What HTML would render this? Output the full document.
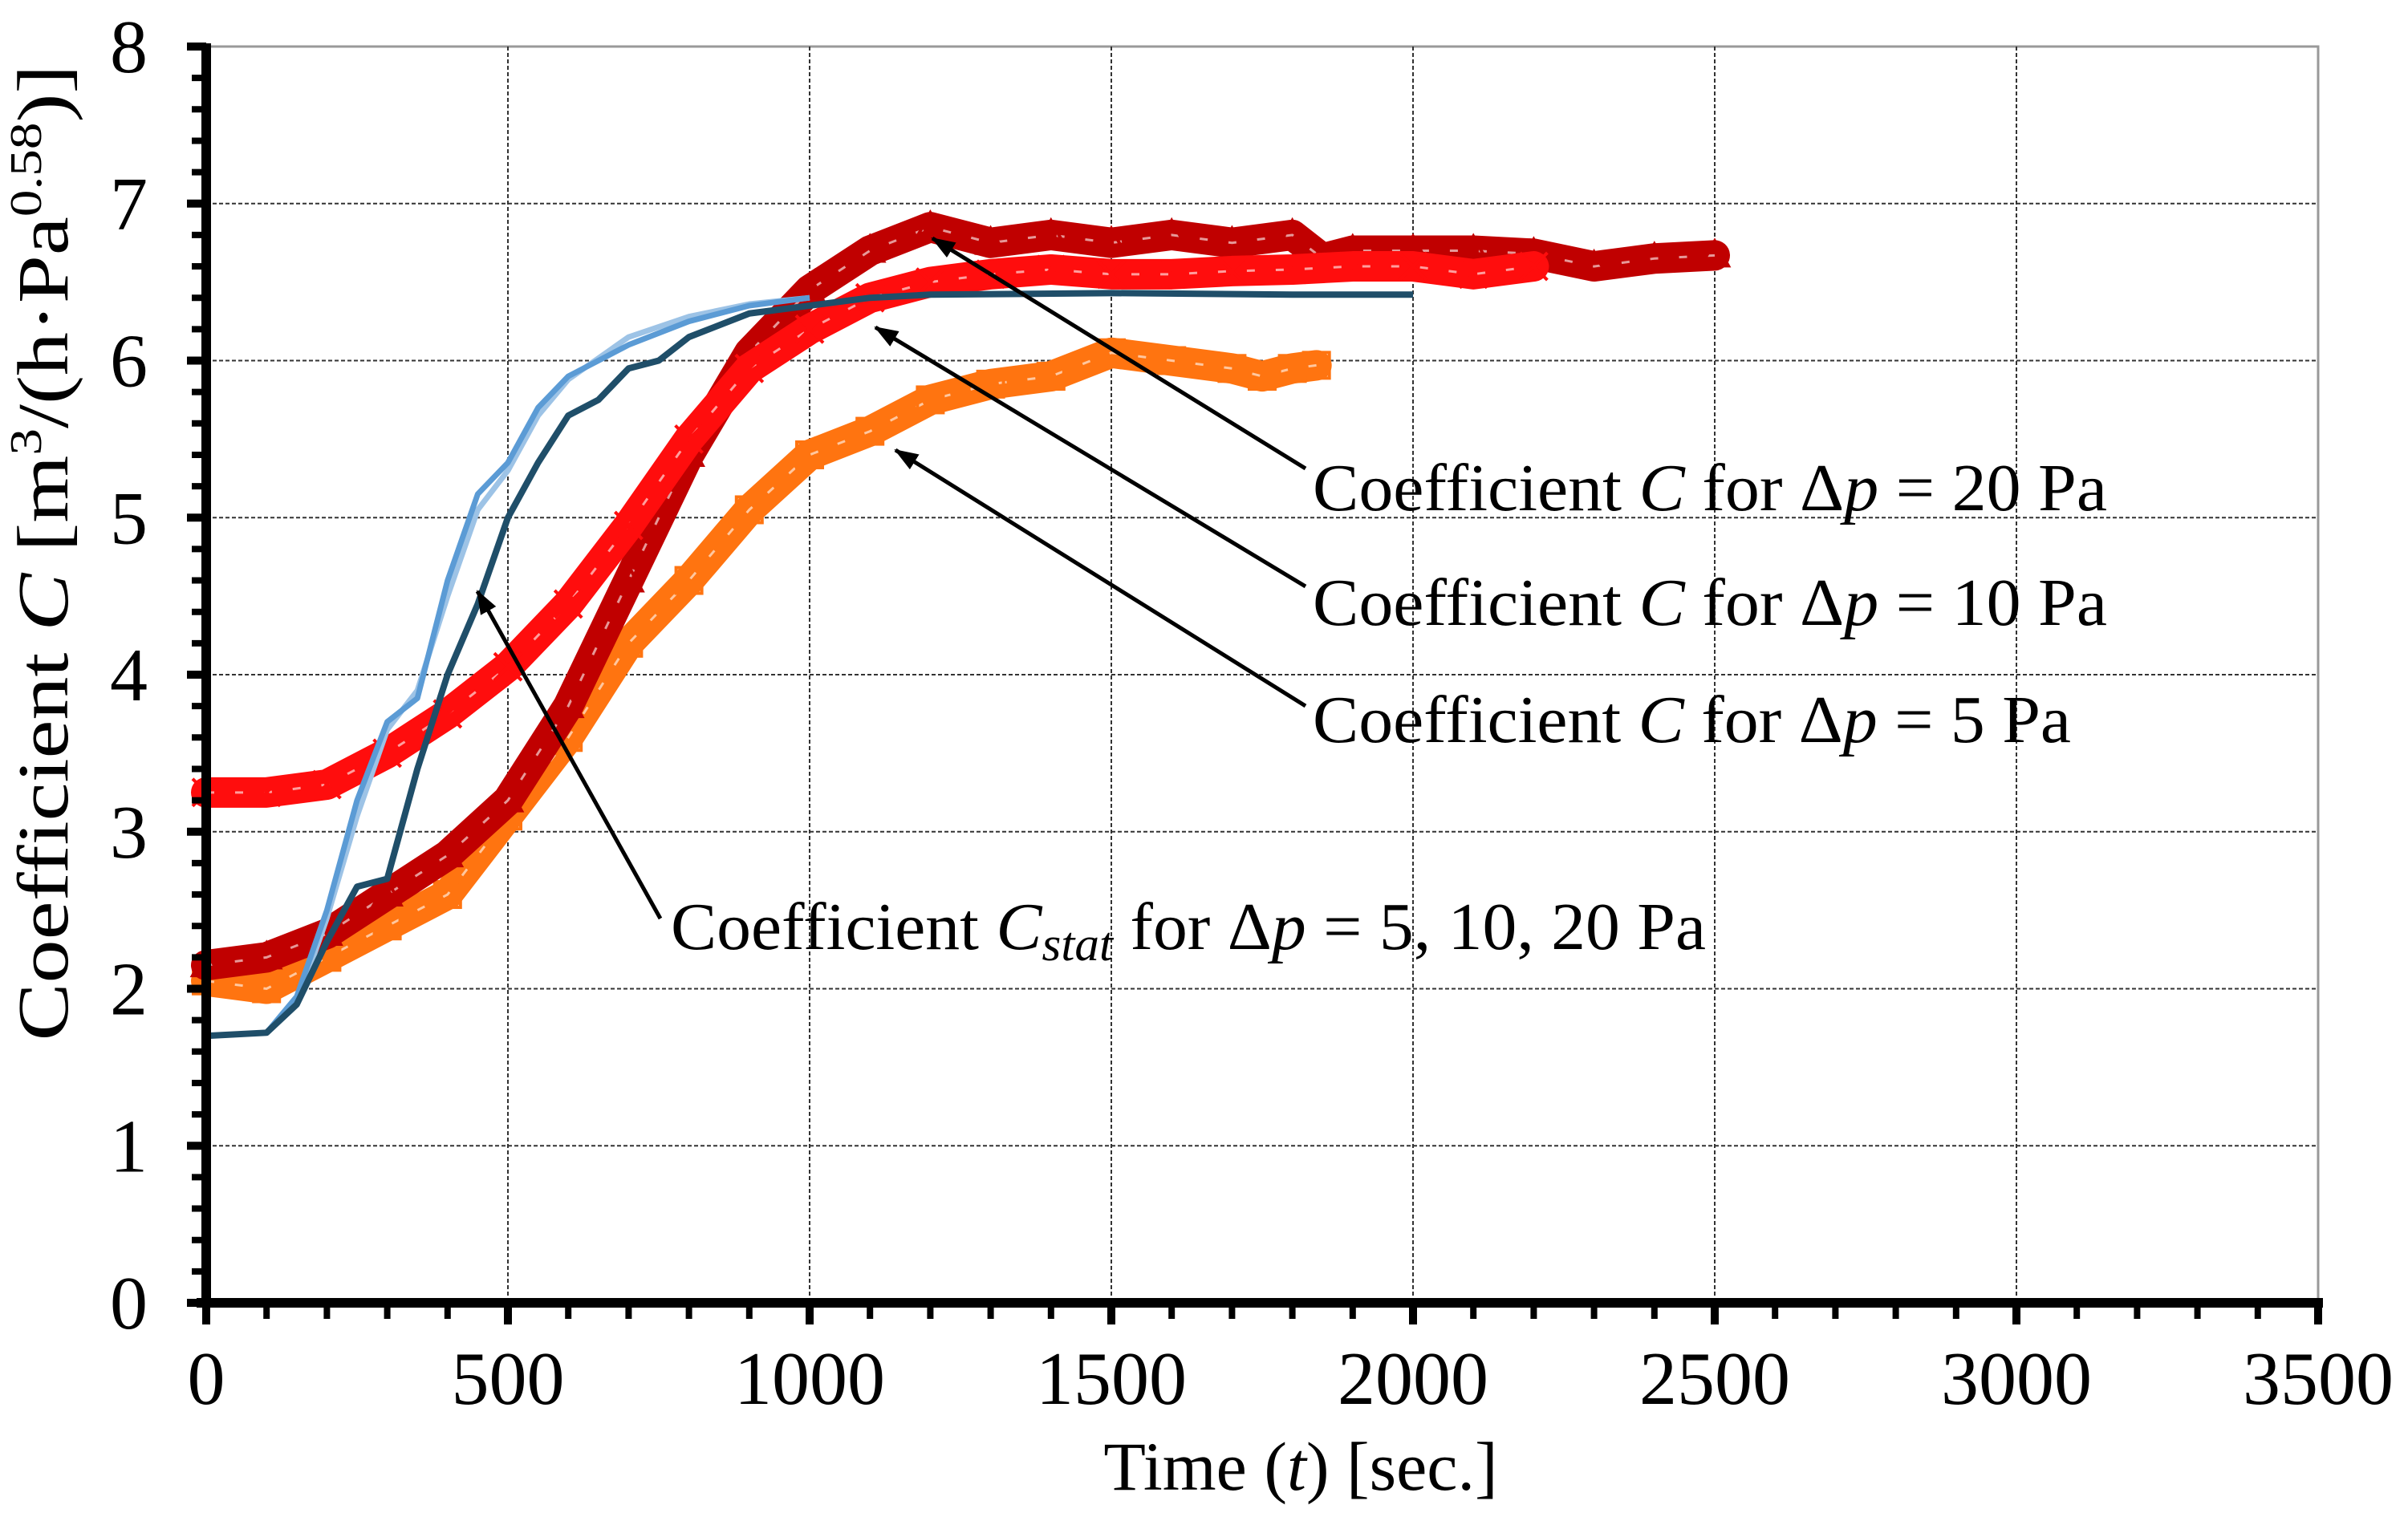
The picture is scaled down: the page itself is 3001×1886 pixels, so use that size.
<!DOCTYPE html>
<html><head><meta charset="utf-8"><style>
body{margin:0;background:#fff}
svg{display:block;font-family:"Liberation Serif",serif}
</style></head><body>
<svg id="chart" width="3001" height="1886" viewBox="0 0 3001 1886" xmlns="http://www.w3.org/2000/svg">
<g id="grid"></g>
<g id="series"></g>
<g id="axes"></g>
<g id="annot">
 <defs><marker id="ah" markerWidth="30" markerHeight="22" refX="28" refY="11" orient="auto" markerUnits="userSpaceOnUse" viewBox="0 0 30 22"><path d="M0,0 L30,11 L0,22 z" fill="#000"/></marker></defs>
</g>
<text transform="translate(84,689) rotate(-90) scale(1.2,1)" text-anchor="middle" font-size="90">Coefficient <tspan font-style="italic">C</tspan> [m<tspan font-size="56" dy="-33">3</tspan><tspan dy="33">/(h·Pa</tspan><tspan font-size="56" dy="-33">0.58</tspan><tspan dy="33">)]</tspan></text>
<text x="1621" y="1857" text-anchor="middle" font-size="86">Time (<tspan font-style="italic">t</tspan>) [sec.]</text>
</svg>
<script>
const xTicks=[0,500,1000,1500,2000,2500,3000,3500];
const yTicks=[0,1,2,3,4,5,6,7,8];
const t20=[0,100,200,300,400,500,600,700,800,900,1000,1100,1200,1300,1400,1500,1600,1700,1800,1850,1900,2000,2100,2200,2300,2400,2500];
const c20=[2.15,2.2,2.35,2.6,2.85,3.2,3.8,4.6,5.4,6.05,6.45,6.7,6.85,6.75,6.8,6.75,6.8,6.75,6.8,6.65,6.7,6.7,6.7,6.68,6.6,6.65,6.67];
const t10=[0,100,200,300,400,500,600,700,800,900,1000,1100,1200,1300,1400,1500,1600,1700,1800,1900,2000,2100,2200];
const c10=[3.25,3.25,3.3,3.5,3.75,4.05,4.45,4.95,5.5,5.95,6.2,6.4,6.5,6.55,6.58,6.55,6.55,6.57,6.58,6.6,6.6,6.55,6.6];
const t5=[0,100,200,300,400,500,600,700,800,900,1000,1100,1200,1300,1400,1500,1600,1700,1750,1800,1840];
const c5=[2.05,2.0,2.2,2.4,2.6,3.1,3.6,4.2,4.6,5.05,5.4,5.55,5.75,5.85,5.9,6.05,6.0,5.95,5.9,5.95,5.97];
const tS=[0,100,150,200,250,300,350,400,450,500,550,600,650,700,750,800,900,1000,1100,1200,1500,1800,2000];
const cS=[1.7,1.72,1.9,2.3,2.65,2.7,3.4,4.0,4.45,5.0,5.35,5.65,5.75,5.95,6.0,6.15,6.3,6.35,6.4,6.42,6.43,6.42,6.42];
const tB=[0,100,150,200,250,300,350,400,450,500,550,600,700,800,900,1000];
const cB1=[1.7,1.72,1.95,2.5,3.2,3.7,3.85,4.6,5.15,5.35,5.7,5.9,6.1,6.25,6.35,6.4];
const cB2=[1.7,1.72,1.9,2.45,3.1,3.65,3.9,4.5,5.05,5.3,5.65,5.88,6.15,6.28,6.36,6.4];

const X0=257,X1=2889,Y0=1624,Y1=58;
const sx=t=>X0+t*(X1-X0)/3500;
const sy=c=>Y0-c*(Y0-Y1)/8;
const NS="http://www.w3.org/2000/svg";
function mk(tag,parent,attrs){const e=document.createElementNS(NS,tag);for(const k in attrs)e.setAttribute(k,attrs[k]);parent.appendChild(e);return e;}
const grid=document.getElementById('grid'),axes=document.getElementById('axes'),ser=document.getElementById('series'),ann=document.getElementById('annot');
let b=mk('rect',grid,{x:X0,y:Y1,width:X1-X0,height:Y0-Y1,fill:'none',stroke:'#999','stroke-width':3});


yTicks.forEach(v=>{if(v===0||v===8)return;const l=mk('line',grid,{x1:X0,x2:X1,y1:sy(v),y2:sy(v),stroke:'#333','stroke-width':2,'stroke-dasharray':'5,3'});

});
xTicks.forEach(v=>{if(v===0||v===3500)return;const l=mk('line',grid,{y1:Y1,y2:Y0,x1:sx(v),x2:sx(v),stroke:'#333','stroke-width':2,'stroke-dasharray':'5,3'});

});
let ya=mk('line',axes,{x1:X0,x2:X0,y1:Y1-4,y2:Y0+6,stroke:'#000','stroke-width':12});


let xa=mk('line',axes,{x1:X0-12,x2:X1+6,y1:Y0,y2:Y0,stroke:'#000','stroke-width':12});


for(let i=0;i<=40;i++){const v=i*0.2,maj=i%5===0;mk('line',axes,{x1:X0-(maj?24:18),x2:X0,y1:sy(v),y2:sy(v),stroke:'#000','stroke-width':maj?10:8});}
for(let i=0;i<=35;i++){const v=i*100,maj=i%5===0;mk('line',axes,{x1:sx(v),x2:sx(v),y1:Y0,y2:Y0+(maj?27:20),stroke:'#000','stroke-width':maj?10:8});}
yTicks.forEach(v=>{const t=mk('text',axes,{x:184,y:sy(v)+32,'text-anchor':'end','font-size':94});t.textContent=v;

});
xTicks.forEach(v=>{const t=mk('text',axes,{x:sx(v),y:1750,'text-anchor':'middle','font-size':94});t.textContent=v;

});
function pts(ts,cs){return ts.map((t,i)=>sx(t)+','+sy(cs[i])).join(' ');}
function band(ts,cs,color,name,marker){
 const g=mk('g',ser,{});
 
 
 mk('polyline',g,{points:pts(ts,cs),fill:'none',stroke:color,'stroke-width':38,'stroke-linejoin':'round','stroke-linecap':'round'});
 mk('polyline',g,{points:pts(ts,cs),fill:'none',stroke:'#fff','stroke-width':3,'stroke-dasharray':'10,26','stroke-opacity':0.6});
 ts.forEach((t,i)=>{const x=sx(t),y=sy(cs[i]);let m;
  if(marker==='tri')m=mk('path',g,{d:`M${x},${y-18} L${x+17},${y+13} L${x-17},${y+13} z`,fill:'none',stroke:color,'stroke-width':4});
  else if(marker==='sq')m=mk('rect',g,{x:x-16,y:y-16,width:32,height:32,fill:'none',stroke:color,'stroke-width':4});
  else m=mk('path',g,{d:`M${x-17},${y-17} L${x+17},${y+17} M${x+17},${y-17} L${x-17},${y+17}`,stroke:color,'stroke-width':4});
  
  });
}
band(t5,c5,'#ff7410','series-5pa','sq');
band(t20,c20,'#c00000','series-20pa','tri');
band(t10,c10,'#ff0d0d','series-10pa','x');
function line(ts,cs,color,name,w){const l=mk('polyline',ser,{points:pts(ts,cs),fill:'none',stroke:color,'stroke-width':w,'stroke-linejoin':'round'});
 
 }
line(tB,cB2,'#9dc3e6','series-cstat-light',7);
line(tB,cB1,'#5b9bd5','series-cstat-blue',7);
line(tS,cS,'#1f4e69','series-cstat-dark',8);
const arrows=[[1627,584,1162,297],[1627,731,1091,408],[1627,880,1116,561],[823,1145,595,737]];
arrows.forEach(a=>{const l=mk('line',ann,{x1:a[0],y1:a[1],x2:a[2],y2:a[3],stroke:'#000','stroke-width':5,'marker-end':'url(#ah)'});

});
const labs=[[1636,636,'20',990],[1636,779,'10',990],[1636,925,'5',945]];
labs.forEach(a=>{const t=mk('text',ann,{x:a[0],y:a[1],'font-size':84,textLength:a[3],lengthAdjust:'spacingAndGlyphs'});


t.innerHTML='Coefficient <tspan font-style="italic">C</tspan> for Δ<tspan font-style="italic">p</tspan> = '+a[2]+' Pa';});
const tc=mk('text',ann,{x:836,y:1183,'font-size':84,textLength:1290,lengthAdjust:'spacingAndGlyphs'});


tc.innerHTML='Coefficient <tspan font-style="italic">C</tspan><tspan font-style="italic" font-size="60" dy="14">stat</tspan><tspan dy="-14"> for Δ</tspan><tspan font-style="italic">p</tspan> = 5, 10, 20 Pa';
</script>
</body></html>
